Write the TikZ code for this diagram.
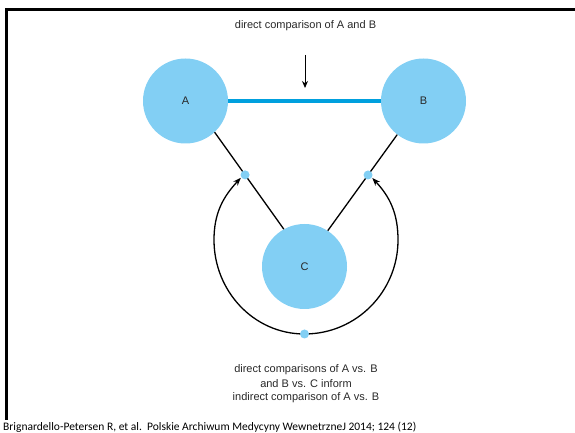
\documentclass[tikz,border=0pt]{standalone}
\usepackage{fontspec}
\setmainfont{Liberation Sans}
\newfontfamily\citefont{Carlito}
\usetikzlibrary{arrows.meta}
\definecolor{circfill}{RGB}{130,207,244}
\definecolor{linkblue}{RGB}{0,160,222}
\definecolor{txtgray}{RGB}{40,40,40}
\begin{document}
\begin{tikzpicture}[x=1pt,y=1pt,
  bigcirc/.style={circle,fill=circfill,draw=none,minimum size=85pt,inner sep=0pt,font=\fontsize{11}{13}\selectfont,text=txtgray},
  dotnode/.style={circle,fill=circfill,draw=none,minimum size=9pt,inner sep=0pt},
  thinline/.style={line width=1.3pt,black},
  arr/.style={line width=1.3pt,black,-{Stealth[length=8pt,width=6pt]}},
  lbl/.style={font=\fontsize{11}{14}\selectfont,text=txtgray,align=center,inner sep=0pt}
]
\useasboundingbox (0,0) rectangle (575,433);
% frame
\draw[line width=3pt,black] (6,13) -- (6,423) -- (575,423);
% nodes
\node[bigcirc] (A) at (185.5,332) {A};
\node[bigcirc] (B) at (423.5,332) {B};
\node[bigcirc] (C) at (304.5,166.5) {C};
% direct comparison
\draw[line width=4.5pt,linkblue] (A.east) -- (B.west);
\node[lbl] (top) at (305.5,407) {direct comparison of A and B};
\coordinate (arrS) at (305,378);
\coordinate (arrE) at (305,345);
\draw[line width=1pt,black,-{Stealth[length=7pt,width=6pt]}] (arrS) -- (arrE);
% indirect links
\draw[thinline] (A.-47) -- node[dotnode,pos=0.44] (dL) {} (C.119);
\draw[thinline] (B.-128) -- node[dotnode,pos=0.42] (dR) {} (C.57);
% arcs
\coordinate (lm) at (214,193);
\coordinate (rm) at (398,193);
\coordinate (botc) at (304.5,99);
\draw[arr] (botc) to[out=180,in=-90] (lm) to[out=90,in=-133] (dL.215);
\draw[arr] (botc) to[out=0,in=-90] (rm) to[out=90,in=-47] (dR.-35);
\node[dotnode] (bot) at (botc) {};
% bottom text
\node[lbl] (l1) at (306,63) {direct comparisons of A vs. B};
\node[lbl] (l2) at (306,49) {and B vs. C inform};
\node[lbl] (l3) at (306,35) {indirect comparison of A vs. B};
% citation
\node[anchor=west,inner sep=0pt,font=\citefont\fontsize{11.5}{13}\selectfont] (cite) at (3,6) {Brignardello-Petersen R, et al.\ \ Polskie Archiwum Medycyny WewnetrzneJ 2014; 124 (12)};
\end{tikzpicture}
\end{document}
